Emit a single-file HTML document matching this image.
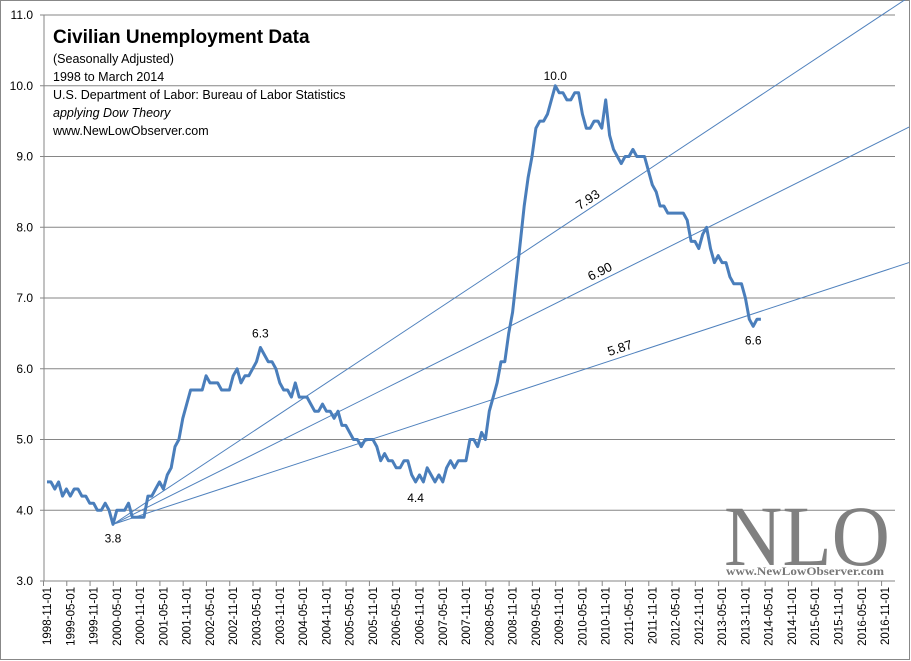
<!DOCTYPE html>
<html><head><meta charset="utf-8"><style>
html,body{margin:0;padding:0;background:#fff}
svg{display:block;font-family:"Liberation Sans",sans-serif}
</style></head><body>
<svg id="chart" width="911" height="661" viewBox="0 0 911 661">
<rect x="0.5" y="0.5" width="909" height="659" fill="#fff" stroke="#888"/>
<g id="grid"></g>
<g id="yaxis"></g>
<g id="xaxis"></g>
<g id="trends"></g>
<g id="series"></g>
<g id="annot"></g>
<g font-family="Liberation Sans, sans-serif" fill="#000">
<text x="53" y="43" font-size="19" font-weight="bold">Civilian Unemployment Data</text>
<text x="53" y="63" font-size="12.5">(Seasonally Adjusted)</text>
<text x="53" y="81" font-size="12.5">1998 to March 2014</text>
<text x="53" y="99" font-size="12.5">U.S. Department of Labor: Bureau of Labor Statistics</text>
<text x="53" y="117" font-size="12.5" font-style="italic">applying Dow Theory</text>
<text x="53" y="135" font-size="12.5">www.NewLowObserver.com</text>
</g>
<g>
<text x="807" y="565" font-family="Liberation Serif, serif" font-size="86" fill="#808080" text-anchor="middle" textLength="166" lengthAdjust="spacingAndGlyphs">NLO</text>
<text x="805" y="575" font-family="Liberation Serif, serif" font-size="11.5" font-weight="bold" fill="#777" text-anchor="middle" textLength="158" lengthAdjust="spacingAndGlyphs">www.NewLowObserver.com</text>
</g>
</svg>
<script>
const startYear = 1998, startMonth = 11;
const unemployment = [
4.4,4.4,
4.3,4.4,4.2,4.3,4.2,4.3,4.3,4.2,4.2,4.1,4.1,4.0,
4.0,4.1,4.0,3.8,4.0,4.0,4.0,4.1,3.9,3.9,3.9,3.9,
4.2,4.2,4.3,4.4,4.3,4.5,4.6,4.9,5.0,5.3,5.5,5.7,
5.7,5.7,5.7,5.9,5.8,5.8,5.8,5.7,5.7,5.7,5.9,6.0,
5.8,5.9,5.9,6.0,6.1,6.3,6.2,6.1,6.1,6.0,5.8,5.7,
5.7,5.6,5.8,5.6,5.6,5.6,5.5,5.4,5.4,5.5,5.4,5.4,
5.3,5.4,5.2,5.2,5.1,5.0,5.0,4.9,5.0,5.0,5.0,4.9,
4.7,4.8,4.7,4.7,4.6,4.6,4.7,4.7,4.5,4.4,4.5,4.4,
4.6,4.5,4.4,4.5,4.4,4.6,4.7,4.6,4.7,4.7,4.7,5.0,
5.0,4.9,5.1,5.0,5.4,5.6,5.8,6.1,6.1,6.5,6.8,7.3,
7.8,8.3,8.7,9.0,9.4,9.5,9.5,9.6,9.8,10.0,9.9,9.9,
9.8,9.8,9.9,9.9,9.6,9.4,9.4,9.5,9.5,9.4,9.8,9.3,
9.1,9.0,8.9,9.0,9.0,9.1,9.0,9.0,9.0,8.8,8.6,8.5,
8.3,8.3,8.2,8.2,8.2,8.2,8.2,8.1,7.8,7.8,7.7,7.9,
8.0,7.7,7.5,7.6,7.5,7.5,7.3,7.2,7.2,7.2,7.0,6.7,
6.6,6.7,6.7];
const yTicks = [3.0,4.0,5.0,6.0,7.0,8.0,9.0,10.0,11.0];
const totalMonths = 217;
const trendLabels = ["7.93","6.90","5.87"];
const trendSlopes = [0.03633,0.02737,0.01804];
const trendAnchorIndex = 17, trendAnchorValue = 3.8;
const pointLabels = [{i:17,v:3.8,t:"3.8",dy:18},{i:55,v:6.3,t:"6.3",dy:-10},{i:95,v:4.4,t:"4.4",dy:20},{i:131,v:10.0,t:"10.0",dy:-6},{i:182,v:6.6,t:"6.6",dy:18}];

const X0=47, DX=3.88, Y3=581, PX=70.75, PLOT_L=44, PLOT_R=895;
const xS=i=>X0+DX*i;
const yS=v=>Y3-(v-3)*PX;
const NS="http://www.w3.org/2000/svg";
function mk(tag,attrs,parent){const e=document.createElementNS(NS,tag);for(const k in attrs)e.setAttribute(k,attrs[k]);parent.appendChild(e);return e;}
const grid=document.getElementById('grid'),yax=document.getElementById('yaxis'),xax=document.getElementById('xaxis'),tr=document.getElementById('trends'),se=document.getElementById('series'),an=document.getElementById('annot');

yTicks.forEach(v=>{
  const y=yS(v);
  const l=mk('line',{x1:PLOT_L-4,x2:PLOT_R,y1:y,y2:y,stroke:'#868686','stroke-width':1},grid);
  
  
  const t=mk('text',{x:33,y:y+4,'font-size':12,'text-anchor':'end',fill:'#000'},yax);
  t.textContent=v.toFixed(1);
  
  
});
const ya=mk('line',{x1:PLOT_L,x2:PLOT_L,y1:yS(11),y2:Y3,stroke:'#868686'},yax);



for(let i=0;i<totalMonths;i+=6){
  const x=xS(i);
  const tk=mk('line',{x1:x-3.5,x2:x-3.5,y1:Y3,y2:Y3+5,stroke:'#868686'},xax);
  
  
  const m=(startMonth-1+i)%12+1, yr=startYear+Math.floor((startMonth-1+i)/12);
  const t=mk('text',{x:0,y:0,'font-size':11.5,'text-anchor':'end',transform:`translate(${x+4},587) rotate(-90)`,fill:'#000'},xax);
  t.textContent=`${yr}-${String(m).padStart(2,'0')}-01`;
  
  
}

const ax0=xS(trendAnchorIndex), ay0=yS(trendAnchorValue);
const labelIdx=[140,143,148];
trendSlopes.forEach((s,k)=>{
  const iEnd=(909-X0)/DX;
  const vEnd=trendAnchorValue+s*(iEnd-trendAnchorIndex);
  const l=mk('line',{x1:ax0,y1:ay0,x2:xS(iEnd),y2:yS(vEnd),stroke:'#4f81bd','stroke-width':1},tr);
  
  
  const li=labelIdx[k], lv=trendAnchorValue+s*(li-trendAnchorIndex);
  const ang=-Math.atan(s*PX/DX)*180/Math.PI;
  const t=mk('text',{x:0,y:0,'font-size':13,'text-anchor':'middle',transform:`translate(${xS(li)},${yS(lv)-5}) rotate(${ang})`,fill:'#000'},tr);
  t.textContent=trendLabels[k];
  
  
});

const pts=unemployment.map((v,i)=>xS(i).toFixed(1)+','+yS(v).toFixed(1)).join(' ');
const pl=mk('polyline',{points:pts,fill:'none',stroke:'#4a7ebb','stroke-width':3,'stroke-linejoin':'round'},se);



pointLabels.forEach(p=>{
  const t=mk('text',{x:xS(p.i),y:yS(p.v)+p.dy,'font-size':12,'text-anchor':'middle',fill:'#000'},an);
  t.textContent=p.t;
  
  
});
</script>
</body></html>
